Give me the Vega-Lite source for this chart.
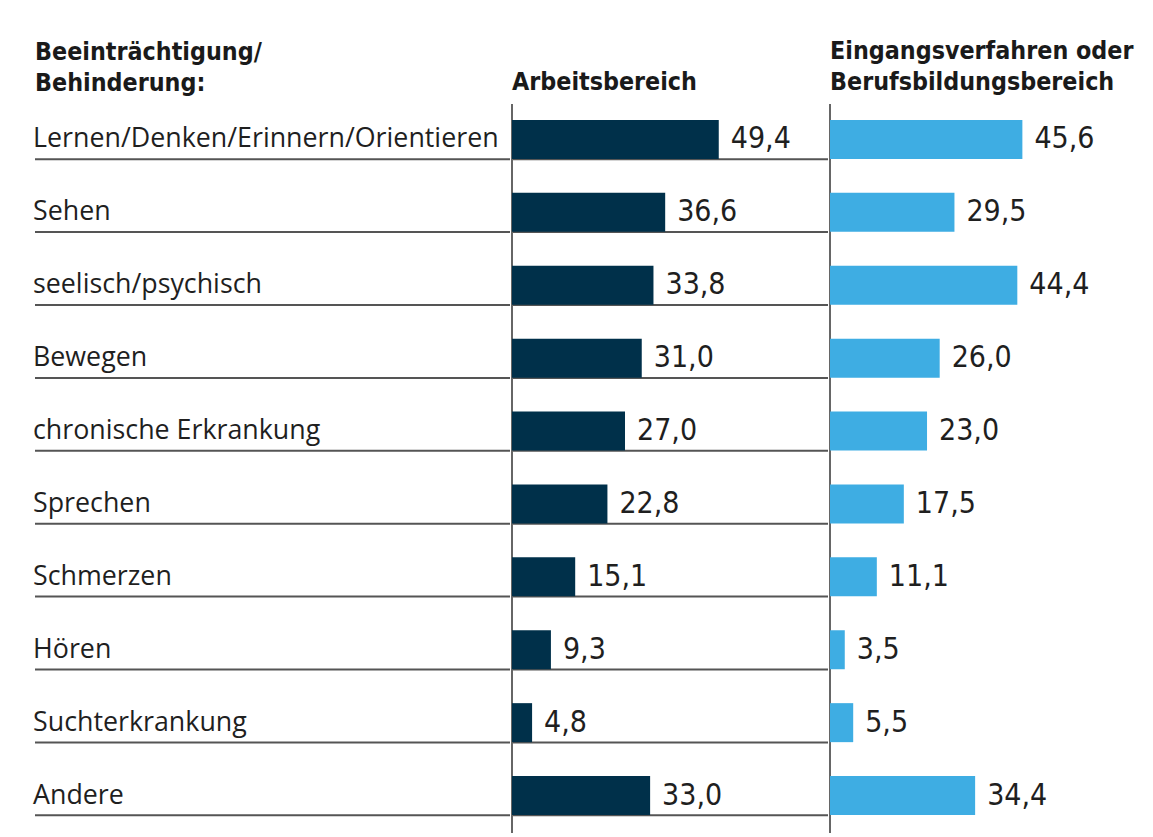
{
  "$schema": "https://vega.github.io/schema/vega-lite/v6.json",
  "autosize": {"type": "pad"},
  "padding": {"left": 33, "top": 39, "right": 0, "bottom": 0},
  "spacing": 0,
  "background": "white",
  "config": {
    "view": {"stroke": null},
    "locale": {"number": {"decimal": ",", "thousands": ".", "grouping": [3], "currency": ["", " €"]}},
    "title": {"font": "DejaVu Sans Condensed", "fontWeight": "bold", "fontSize": 24.8, "color": "#1a1a1a", "anchor": "start", "frame": "group", "baseline": "bottom", "offset": 8, "lineHeight": 31}
  },
  "data": {"values": [
    {"cat": "Lernen/Denken/Erinnern/Orientieren", "a": 49.4, "b": 45.6},
    {"cat": "Sehen", "a": 36.6, "b": 29.5},
    {"cat": "seelisch/psychisch", "a": 33.8, "b": 44.4},
    {"cat": "Bewegen", "a": 31.0, "b": 26.0},
    {"cat": "chronische Erkrankung", "a": 27.0, "b": 23.0},
    {"cat": "Sprechen", "a": 22.8, "b": 17.5},
    {"cat": "Schmerzen", "a": 15.1, "b": 11.1},
    {"cat": "Hören", "a": 9.3, "b": 3.5},
    {"cat": "Suchterkrankung", "a": 4.8, "b": 5.5},
    {"cat": "Andere", "a": 33.0, "b": 34.4}
  ]},
  "hconcat": [
    {
      "width": 475, "height": 729,
      "title": {"text": ["Beeinträchtigung/", "Behinderung:"]},
      "layer": [
        {"mark": {"type": "rule", "color": "#555555", "strokeWidth": 2},
         "encoding": {"y": {"field": "cat", "type": "nominal", "sort": null, "bandPosition": 0.757, "axis": null, "scale": {"type": "band", "paddingInner": 0, "paddingOuter": 0}}}},
        {"mark": {"type": "text", "align": "left", "baseline": "middle", "dx": -2, "font": "Open Sans", "fontSize": 26.8, "color": "#1f1f1f", "yOffset": -1},
         "encoding": {
           "y": {"field": "cat", "type": "nominal", "sort": null, "axis": null, "scale": {"type": "band", "paddingInner": 0, "paddingOuter": 0}},
           "x": {"datum": 0, "type": "quantitative", "scale": {"domain": [0, 1]}, "axis": null},
           "text": {"field": "cat"}}}
      ]
    },
    {
      "width": 316, "height": 729,
      "title": {"text": "Arbeitsbereich"},
      "layer": [
        {"mark": {"type": "rule", "color": "#555555", "strokeWidth": 2},
         "encoding": {"y": {"field": "cat", "type": "nominal", "sort": null, "bandPosition": 0.757, "axis": null, "scale": {"type": "band", "paddingInner": 0, "paddingOuter": 0}}}},
        {"mark": {"type": "rule", "color": "#666666", "strokeWidth": 2},
         "encoding": {"x": {"datum": 0, "type": "quantitative", "scale": {"domain": [0, 75.5]}, "axis": null}}},
        {"mark": {"type": "bar", "color": "#00304a", "height": 39, "yOffset": -1},
         "encoding": {
           "y": {"field": "cat", "type": "nominal", "sort": null, "axis": null, "scale": {"type": "band", "paddingInner": 0, "paddingOuter": 0}},
           "x": {"field": "a", "type": "quantitative", "scale": {"domain": [0, 75.5]}, "axis": null}}},
        {"mark": {"type": "text", "align": "left", "baseline": "middle", "dx": 12, "yOffset": -1, "font": "DejaVu Sans Condensed", "fontSize": 30, "color": "#1f1f1f"},
         "encoding": {
           "y": {"field": "cat", "type": "nominal", "sort": null, "axis": null, "scale": {"type": "band", "paddingInner": 0, "paddingOuter": 0}},
           "x": {"field": "a", "type": "quantitative", "scale": {"domain": [0, 75.5]}, "axis": null},
           "text": {"field": "a", "type": "quantitative", "format": ".1f"}}}
      ]
    },
    {
      "width": 324, "height": 729,
      "title": {"text": ["Eingangsverfahren oder", "Berufsbildungsbereich"]},
      "layer": [
        {"mark": {"type": "rule", "color": "#666666", "strokeWidth": 2},
         "encoding": {"x": {"datum": 0, "type": "quantitative", "scale": {"domain": [0, 76.8]}, "axis": null}}},
        {"mark": {"type": "bar", "color": "#3eade3", "height": 39, "yOffset": -1},
         "encoding": {
           "y": {"field": "cat", "type": "nominal", "sort": null, "axis": null, "scale": {"type": "band", "paddingInner": 0, "paddingOuter": 0}},
           "x": {"field": "b", "type": "quantitative", "scale": {"domain": [0, 76.8]}, "axis": null}}},
        {"mark": {"type": "text", "align": "left", "baseline": "middle", "dx": 12, "yOffset": -1, "font": "DejaVu Sans Condensed", "fontSize": 30, "color": "#1f1f1f"},
         "encoding": {
           "y": {"field": "cat", "type": "nominal", "sort": null, "axis": null, "scale": {"type": "band", "paddingInner": 0, "paddingOuter": 0}},
           "x": {"field": "b", "type": "quantitative", "scale": {"domain": [0, 76.8]}, "axis": null},
           "text": {"field": "b", "type": "quantitative", "format": ".1f"}}}
      ]
    }
  ]
}
